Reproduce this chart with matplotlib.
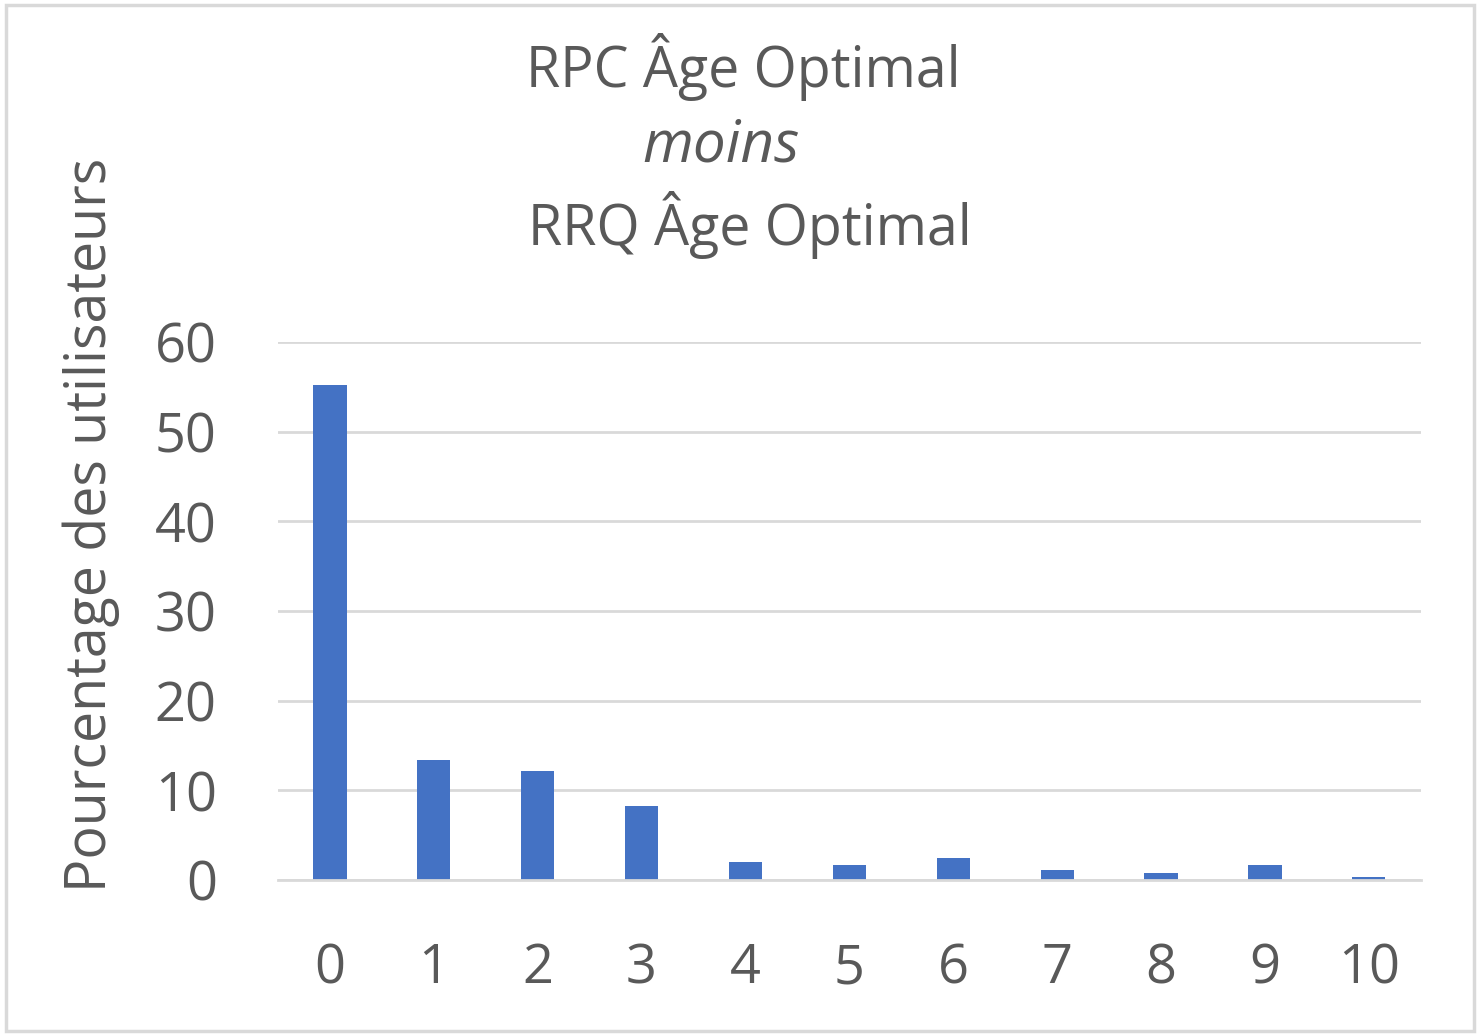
import matplotlib
matplotlib.use('Agg')
import matplotlib.pyplot as plt
from matplotlib.patches import Rectangle

# data
categories = [0, 1, 2, 3, 4, 5, 6, 7, 8, 9, 10]
pourcentage = [55.2, 13.4, 12.2, 8.3, 2.0, 1.7, 2.4, 1.1, 0.8, 1.7, 0.3]
y_ticks = [0, 10, 20, 30, 40, 50, 60]

bar_color = '#4472C4'
grid_color = '#D9D9D9'
text_color = '#595959'

plt.rcParams['font.family'] = ['Open Sans', 'DejaVu Sans']

fig = plt.figure(figsize=(14.8, 10.35), dpi=100)
ax = fig.add_axes([0.1878, 0.1498, 0.7722, 0.5198])

ax.bar(categories, pourcentage, width=0.32, color=bar_color, zorder=3)
ax.set_xlim(-0.5, 10.5)
ax.set_ylim(0, 60)
ax.set_yticks(y_ticks)
ax.set_xticks(categories)
ax.set_xticklabels([str(c) for c in categories])
ax.tick_params(axis='both', length=0, labelsize=39, colors=text_color)
ax.tick_params(axis='x', pad=44)
ax.tick_params(axis='y', pad=44)
ax.grid(axis='y', color=grid_color, linewidth=2, zorder=0)
for side in ['top', 'right', 'left']:
    ax.spines[side].set_visible(False)
ax.spines['bottom'].set_color(grid_color)
ax.spines['bottom'].set_linewidth(2)
ax.spines['bottom'].set_zorder(4)

ax.set_ylabel('Pourcentage des utilisateurs', fontsize=40, color=text_color)
ax.yaxis.set_label_coords(-0.138, 0.66)

fig.text(0.502, 0.935, 'RPC Âge Optimal', ha='center', va='center', fontsize=40, color=text_color)
fig.text(0.487, 0.859, 'moins', ha='center', va='center', fontsize=42, color=text_color, style='italic')
fig.text(0.507, 0.783, 'RRQ Âge Optimal', ha='center', va='center', fontsize=40, color=text_color)

fig.patches.append(Rectangle((0.004, 0.004), 0.992, 0.991, transform=fig.transFigure,
                             fill=False, edgecolor=grid_color, linewidth=2.5))

fig.savefig('out.png', dpi=100)
